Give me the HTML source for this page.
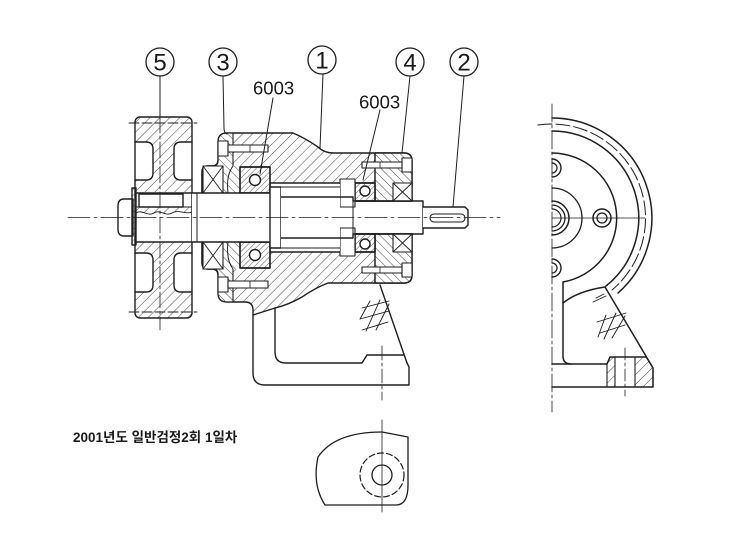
<!DOCTYPE html>
<html><head><meta charset="utf-8"><style>
html,body{margin:0;padding:0;background:#fff;}
svg{display:block}
text{font-family:"Liberation Sans","Noto Sans CJK KR",sans-serif;fill:#1a1a1a}
</style></head><body>
<svg width="730" height="550" viewBox="0 0 730 550" xmlns="http://www.w3.org/2000/svg">
<defs>
<pattern id="h1" width="7" height="7" patternUnits="userSpaceOnUse" patternTransform="rotate(45)"><line x1="0" y1="-1" x2="0" y2="8" stroke="#333" stroke-width="0.9"/></pattern>
<pattern id="h2" width="6" height="6" patternUnits="userSpaceOnUse" patternTransform="rotate(-45)"><line x1="0" y1="-1" x2="0" y2="7" stroke="#333" stroke-width="0.9"/></pattern>
<pattern id="h3" width="4" height="4" patternUnits="userSpaceOnUse" patternTransform="rotate(45)"><line x1="0" y1="-1" x2="0" y2="5" stroke="#333" stroke-width="0.8"/></pattern>
</defs>
<rect width="730" height="550" fill="#fff"/>
<g fill="none" stroke="#1e1e1e" stroke-width="1.4" stroke-linejoin="round" stroke-linecap="round">

<!-- ===== PULLEY (5) ===== -->
<rect x="135" y="117" width="57" height="201" rx="5" fill="url(#h1)" stroke="none"/>
<g fill="#fff" stroke="none">
<path d="M135,142 H146 Q153,142 153,149 V173 Q153,180 146,180 H135 Z"/>
<path d="M192,142 H181 Q174,142 174,149 V173 Q174,180 181,180 H192 Z"/>
<path d="M135,253 H146 Q153,253 153,260 V285 Q153,292 146,292 H135 Z"/>
<path d="M192,253 H181 Q174,253 174,260 V285 Q174,292 181,292 H192 Z"/>
<rect x="135" y="192" width="57" height="50"/>
</g>
<path d="M135,142 H146 Q153,142 153,149 V173 Q153,180 146,180 H135"/>
<path d="M192,142 H181 Q174,142 174,149 V173 Q174,180 181,180 H192"/>
<path d="M135,253 H146 Q153,253 153,260 V285 Q153,292 146,292 H135"/>
<path d="M192,253 H181 Q174,253 174,260 V285 Q174,292 181,292 H192"/>
<rect x="135" y="117" width="57" height="201" rx="5"/>
<line x1="129" y1="123" x2="197" y2="123" stroke-width="0.9" stroke-dasharray="10 3"/>
<line x1="129" y1="312" x2="197" y2="312" stroke-width="0.9" stroke-dasharray="10 3"/>

<!-- shaft in pulley -->
<path d="M133,199 H124 Q118,199 118,206 V229 Q118,236 124,236 H133 Z" fill="#fff"/>
<rect x="132" y="188" width="4" height="57" fill="url(#h3)"/>
<rect x="139" y="194" width="44" height="13" fill="#fff"/>
<path d="M136,207 H192 V212 C186,215 178,209 172,213 C166,217 160,209 154,213 C148,217 142,209 136,213 Z" fill="url(#h1)" stroke-width="0.9"/>

<!-- ===== HOUSING (1) upper ===== -->
<path d="M202,193 V172 Q202,166 208,166 H212 Q218,166 218,160 V142 Q218,133 227,133 H293 Q305,138 318,147 Q324,153 334,153 H404 Q412,153 412,161 V201 H355 V183 H270 V193 Z" fill="url(#h1)"/>
<!-- lower -->
<path d="M202,242 H270 V252 H355 V234 H412 V275 Q412,283 404,283 H328 Q315,288 302,297 Q288,305 275,308 L253,315 V310 Q253,302 245,302 H227 Q218,302 218,293 V275 Q218,269 212,269 H208 Q202,269 202,263 Z" fill="url(#h1)"/>

<!-- cover 3 upper / lower -->
<path d="M218.7,142 Q218.7,133.7 227,133.7 H233 V166 H218.7 Z" fill="#fff" stroke="none"/>
<path d="M218.7,142 Q218.7,133.7 227,133.7 H233 V166 H218.7 Z" fill="url(#h2)" stroke="none"/>
<path d="M218.7,293 Q218.7,301.3 227,301.3 H233 V269 H218.7 Z" fill="#fff" stroke="none"/>
<path d="M218.7,293 Q218.7,301.3 227,301.3 H233 V269 H218.7 Z" fill="url(#h2)" stroke="none"/>
<line x1="233" y1="133" x2="233" y2="166" stroke-width="1.1"/>
<line x1="233" y1="269" x2="233" y2="302" stroke-width="1.1"/>

<!-- cover 4 -->
<path d="M375,153 H404 Q412,153 412,161 V201 H375 Z" fill="#fff" stroke="none"/>
<path d="M375,153 H404 Q412,153 412,161 V201 H375 Z" fill="url(#h2)"/>
<path d="M375,234 H412 V275 Q412,283 404,283 H375 Z" fill="#fff" stroke="none"/>
<path d="M375,234 H412 V275 Q412,283 404,283 H375 Z" fill="url(#h2)"/>
<!-- cover 3 lower hatch parts -->
<rect x="203" y="166" width="37" height="27" fill="#fff" stroke="none"/>
<rect x="203" y="166" width="37" height="27" fill="url(#h2)" stroke="none"/>
<rect x="203" y="242" width="37" height="27" fill="#fff" stroke="none"/>
<rect x="203" y="242" width="37" height="27" fill="url(#h2)" stroke="none"/>
<path d="M202,193 V172 Q202,166 208,166 H212 Q218,166 218,160"/>
<path d="M202,242 V263 Q202,269 208,269 H212 Q218,269 218,275"/>
<path d="M233,166 Q226,175 228,193" stroke-width="1"/>
<path d="M233,269 Q226,260 228,242" stroke-width="1"/>

<!-- seals (X boxes) -->
<g fill="#fff" stroke-width="1.1">
<rect x="203" y="166" width="20" height="27"/>
<rect x="203" y="242" width="20" height="27"/>
<rect x="393" y="183" width="19" height="18"/>
<rect x="393" y="234" width="19" height="18"/>
</g>
<g stroke-width="0.9">
<path d="M203,166 L223,193 M223,166 L203,193"/>
<path d="M203,242 L223,269 M223,242 L203,269"/>
<path d="M393,183 L412,201 M412,183 L393,201"/>
<path d="M393,234 L412,252 M412,234 L393,252"/>
</g>

<!-- bearings -->
<rect x="240" y="167" width="30" height="26" fill="#fff"/>
<rect x="240" y="167" width="30" height="26" fill="url(#h3)"/>
<circle cx="255" cy="180" r="5.5" fill="#fff"/>
<rect x="240" y="242" width="30" height="26" fill="#fff"/>
<rect x="240" y="242" width="30" height="26" fill="url(#h3)"/>
<circle cx="255" cy="255" r="5.5" fill="#fff"/>
<rect x="355" y="183" width="20" height="18" fill="#fff"/>
<rect x="355" y="183" width="20" height="18" fill="url(#h3)"/>
<circle cx="365" cy="191" r="5" fill="#fff"/>
<rect x="355" y="234" width="20" height="18" fill="#fff"/>
<rect x="355" y="234" width="20" height="18" fill="url(#h3)"/>
<circle cx="365" cy="244" r="5" fill="#fff"/>
<!-- spacers -->
<rect x="340" y="179" width="15" height="28" fill="#fff" stroke-width="1.1"/>
<rect x="340" y="228" width="15" height="28" fill="#fff" stroke-width="1.1"/>
<line x1="375" y1="153" x2="375" y2="183" stroke-width="1.1"/>
<line x1="375" y1="252" x2="375" y2="283" stroke-width="1.1"/>

<!-- ===== SHAFT ===== -->
<rect x="192" y="193" width="78" height="49" fill="#fff" stroke="none"/>
<line x1="136" y1="193" x2="270" y2="193"/>
<line x1="136" y1="242" x2="270" y2="242"/>
<line x1="197" y1="193" x2="197" y2="242" stroke-width="1"/>
<rect x="270" y="187" width="11" height="61" fill="#fff"/>
<rect x="281" y="184" width="59" height="67" fill="#fff" stroke="none"/>
<line x1="281" y1="187" x2="340" y2="187" stroke-width="1.1"/>
<line x1="281" y1="248" x2="340" y2="248" stroke-width="1.1"/>
<path d="M281,197 H353 V201 H423 V234 H353 V238 H281" />
<line x1="353" y1="201" x2="353" y2="234" stroke-width="1"/>
<path d="M423,207 H465 L468,210 V225 L465,228 H423" fill="#fff"/>
<rect x="430" y="214" width="35" height="8" rx="4" stroke-width="1.1"/>

<!-- bolts -->
<g fill="#fff" stroke-width="1.1">
<rect x="218" y="141" width="10" height="15"/>
<rect x="228" y="145" width="40" height="7"/>
<rect x="218" y="277" width="10" height="15"/>
<rect x="228" y="281" width="40" height="7"/>
<rect x="402" y="158" width="10" height="14"/>
<rect x="362" y="162" width="40" height="6"/>
<rect x="402" y="263" width="10" height="14"/>
<rect x="362" y="267" width="40" height="6"/>
</g>
<g stroke-width="0.8">
<line x1="250" y1="145" x2="250" y2="152"/><line x1="250" y1="281" x2="250" y2="288"/>
<line x1="380" y1="162" x2="380" y2="168"/><line x1="380" y1="267" x2="380" y2="273"/>
</g>

<!-- pedestal -->
<path d="M253,315 V373 Q253,385 265,385 H409 V367 L407,363"/>
<path d="M380,285 L407,363"/>
<path d="M275,308 V352 Q275,363 286,363 H362 L367,355 H404"/>
<line x1="382" y1="346" x2="382" y2="400" stroke-width="0.8" stroke-dasharray="14 3 3 3"/>
<g stroke-width="0.9">
<path d="M362,308 L389,301"/><path d="M360,319 L389,311"/><path d="M362,330 L388,322"/>
<path d="M370,301 L360,319"/><path d="M380,300 L366,331"/><path d="M389,304 L376,330"/>
</g>

<!-- centerlines -->
<line x1="68" y1="217.5" x2="500" y2="217.5" stroke-width="0.8" stroke-dasharray="22 4 3 4"/>
<line x1="160" y1="117" x2="160" y2="330" stroke-width="0.8" stroke-dasharray="16 3 3 3"/>

<!-- leaders -->
<g stroke-width="1">
<line x1="160" y1="76" x2="160" y2="117"/>
<path d="M223,76 L224,128 Q224,133 227,134"/>
<line x1="273" y1="98" x2="260" y2="174"/>
<line x1="323" y1="74" x2="320" y2="148"/>
<line x1="380" y1="110" x2="363" y2="180"/>
<line x1="410" y1="76" x2="402" y2="153"/>
<line x1="464" y1="76" x2="453" y2="207"/>
</g>
<g stroke-width="1.3" fill="#fff">
<circle cx="160" cy="62" r="14"/>
<circle cx="223" cy="62" r="14"/>
<circle cx="322" cy="60" r="14"/>
<circle cx="410" cy="62" r="14"/>
<circle cx="464" cy="62" r="14"/>
</g>

<!-- ===== RIGHT VIEW ===== -->
<line x1="552" y1="104" x2="552" y2="412" stroke-width="0.8" stroke-dasharray="18 3 3 3"/>
<path d="M552,118 A100,100 0 0 1 618,293" stroke-width="1.5"/>
<path d="M538,125 A94,94 0 0 1 612,290" stroke-width="1" stroke-dasharray="14 4"/>
<path d="M552,131 A87,87 0 0 1 606,286" stroke-width="1.5"/>
<path d="M552,153 A65,65 0 0 1 563,282" stroke-width="1.5"/>
<path d="M552,188 A30,30 0 0 1 552,248" stroke-width="1.3"/>
<path d="M552,201 A17,17 0 0 1 552,235" stroke-width="1.5"/>
<path d="M552,205 A13,13 0 0 1 552,231" stroke-width="1.3"/>
<path d="M552,209 A9,9 0 0 1 552,227" stroke-width="1.2"/>
<circle cx="602" cy="218" r="9" stroke-width="1.5"/>
<circle cx="602" cy="218" r="5" stroke-width="1.3"/>
<path d="M552,159 A9,9 0 0 1 552,177" stroke-width="1.4"/>
<path d="M552,163 A5,5 0 0 1 552,173" stroke-width="1.2"/>
<path d="M552,259 A9,9 0 0 1 552,277" stroke-width="1.4"/>
<path d="M552,263 A5,5 0 0 1 552,273" stroke-width="1.2"/>
<line x1="552" y1="218" x2="645" y2="218" stroke-width="0.8"/>
<path d="M563,282 V356 Q563,364 571,364" stroke-width="1.5"/>
<path d="M552,364 H607 L610,357 H646" stroke-width="1.5"/>
<path d="M563,303 Q578,291 605,287" stroke-width="1.5"/>
<path d="M605,287 L653,368 V387 H552" stroke-width="1.5"/>
<path d="M607,364 L610,357 H615 V387 H607 Z" fill="url(#h1)" stroke-width="1.1"/>
<path d="M635,357 H646 L653,368 V387 H635 Z" fill="url(#h1)" stroke-width="1.1"/>
<line x1="625" y1="348" x2="625" y2="396" stroke-width="0.8" stroke-dasharray="12 3 3 3"/>
<g stroke-width="0.9">
<path d="M597,322 L626,313"/><path d="M600,333 L625,325"/>
<path d="M606,315 L598,337"/><path d="M616,313 L604,339"/><path d="M625,316 L612,338"/>
<path d="M593,302 L606,296"/><path d="M596,298 L604,294"/>
</g>

<!-- ===== BOTTOM VIEW ===== -->
<line x1="382" y1="420" x2="382" y2="512" stroke-width="0.8"/>
<path d="M318,457 Q335,432 382,432 L408,437 V485 Q408,505 396,505 H325 Q312,485 318,457 Z" stroke-width="1.3"/>
<circle cx="382" cy="475" r="22" stroke-width="1.2" stroke-dasharray="6 3"/>
<circle cx="382" cy="475" r="10" stroke-width="1.3"/>
</g>

<!-- TEXT -->
<g font-size="24" text-anchor="middle">
<text x="160" y="70.5">5</text>
<text x="223" y="70.5">3</text>
<text x="322" y="68.5">1</text>
<text x="410" y="70.5">4</text>
<text x="464" y="70.5">2</text>
</g>
<text x="253" y="94.5" font-size="18.5">6003</text>
<text x="359" y="108.5" font-size="18.5">6003</text>
<text x="73" y="442" font-size="13.5" font-weight="bold">2001년도 일반검정2회 1일차</text>
</svg>
</body></html>
